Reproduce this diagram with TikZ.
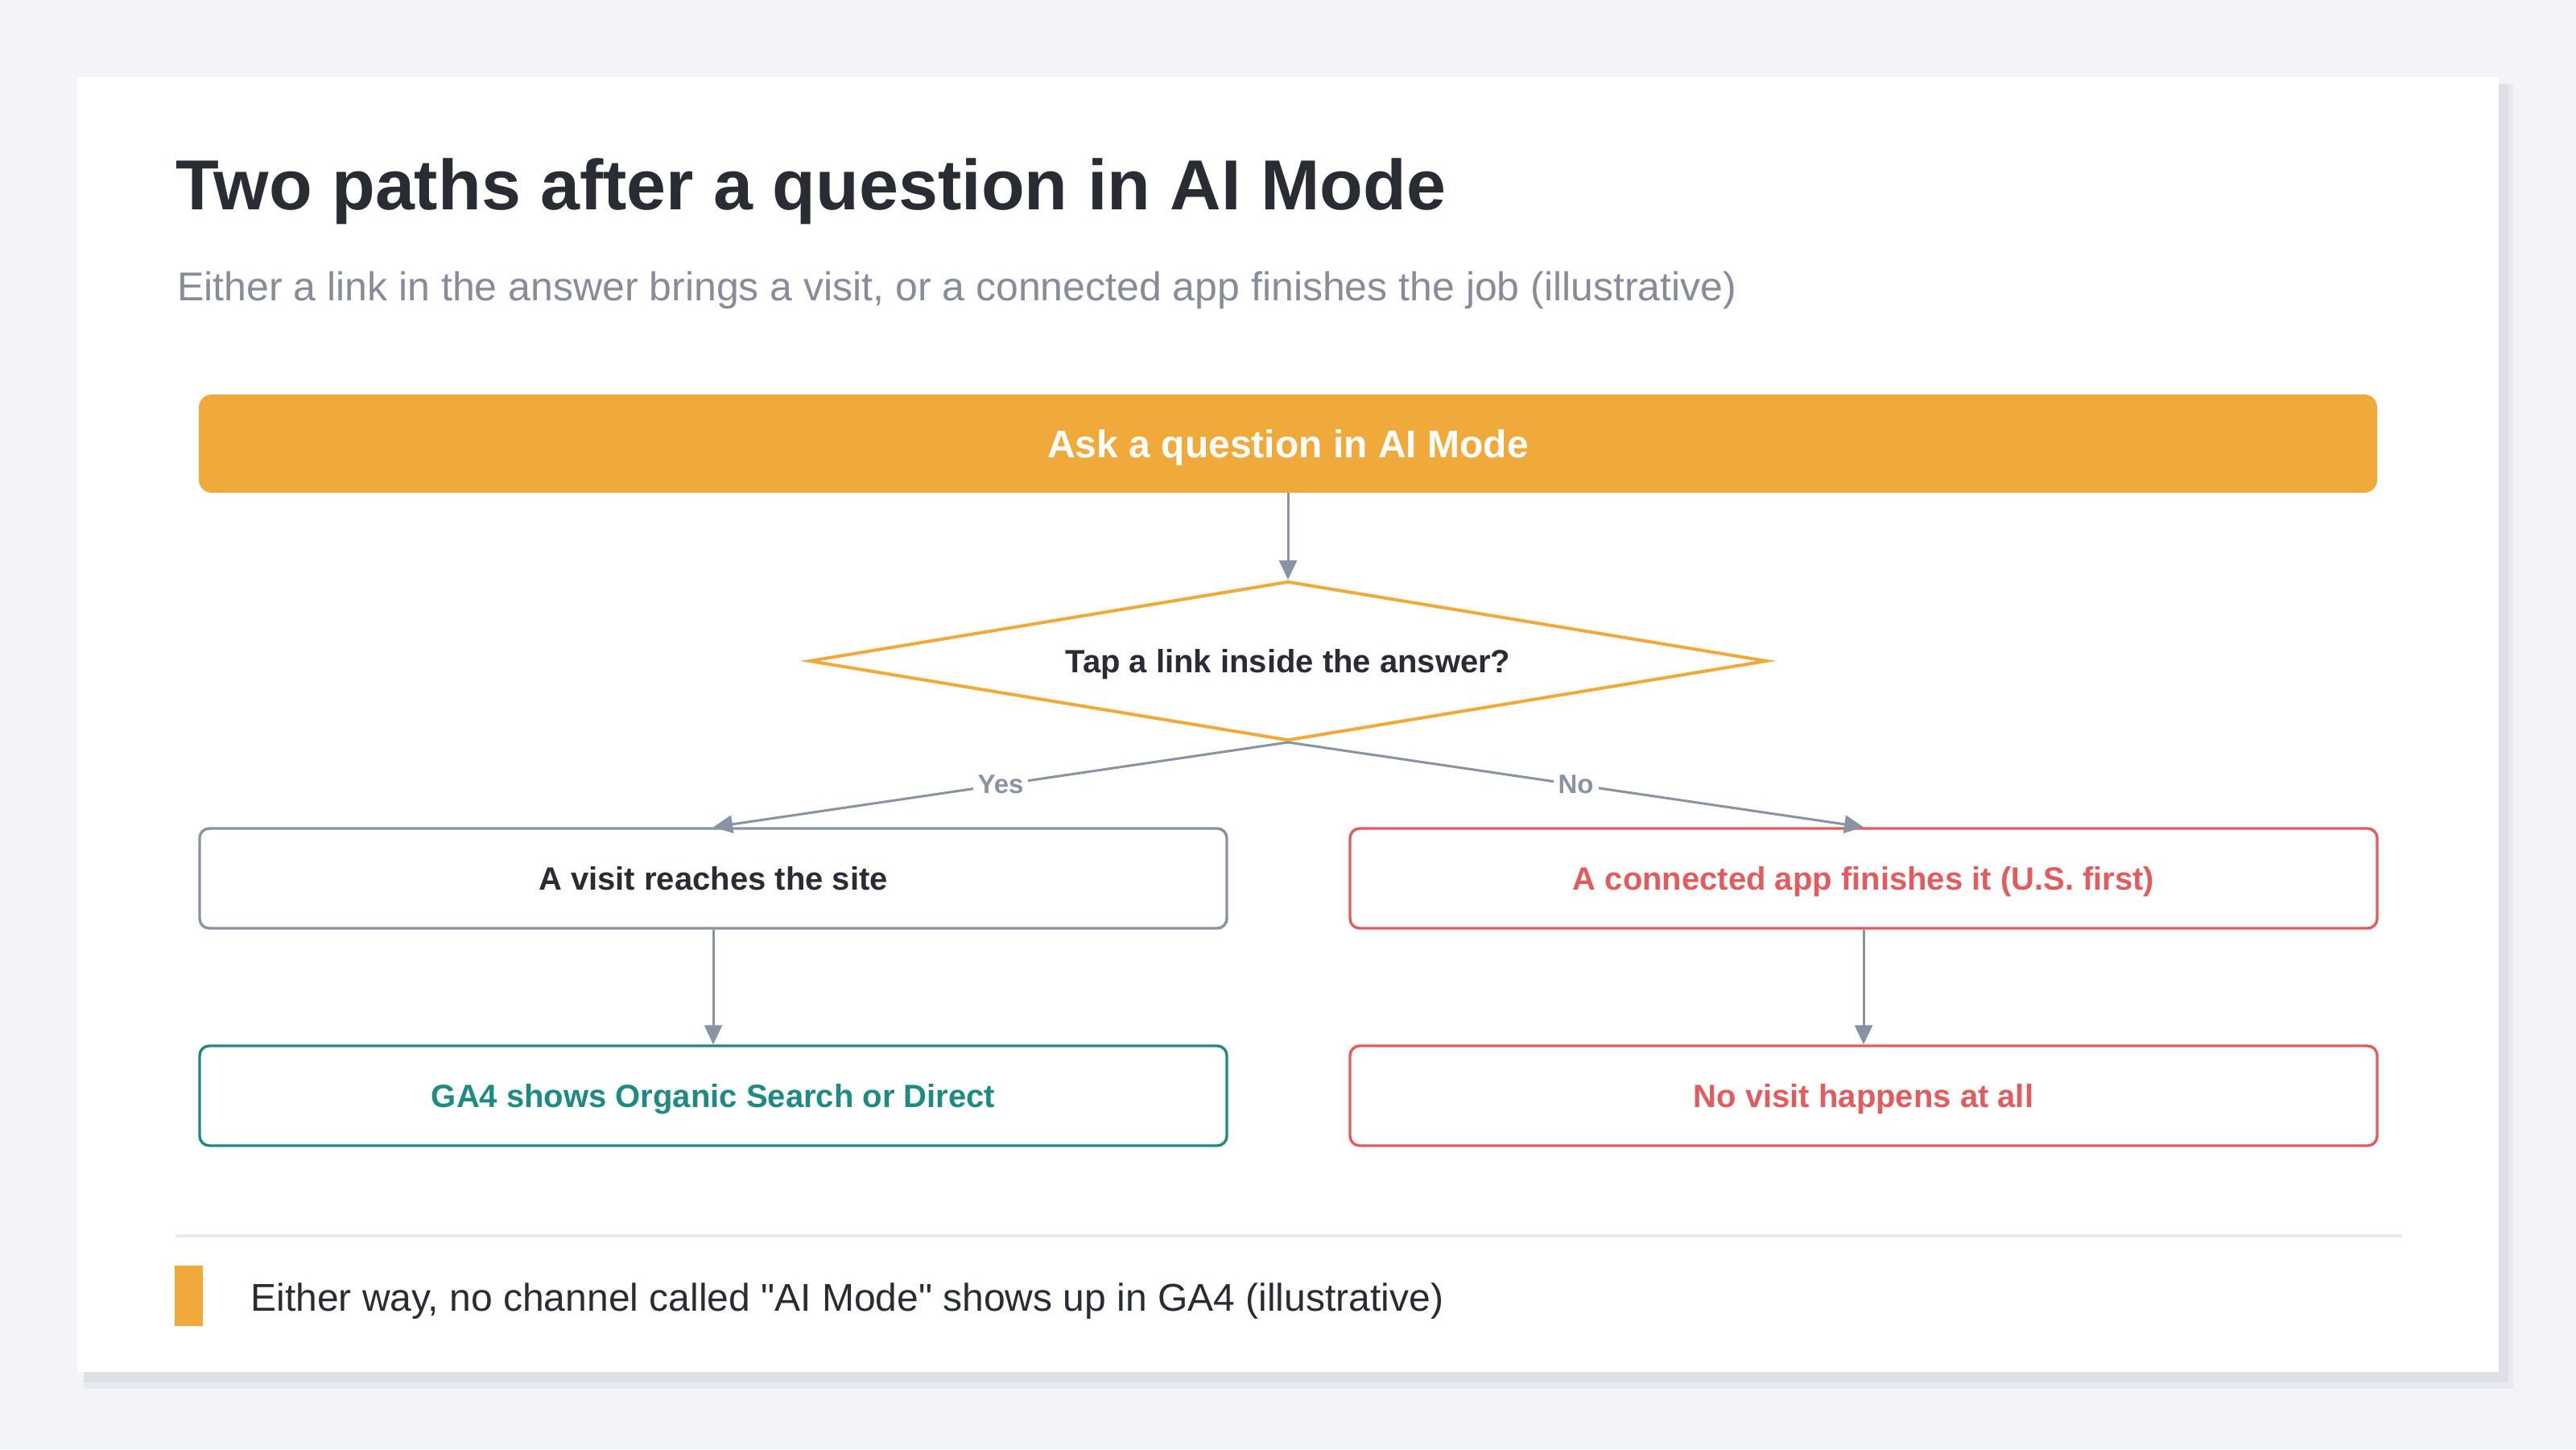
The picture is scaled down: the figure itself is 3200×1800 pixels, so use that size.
\documentclass[tikz,border=0pt]{standalone}
\usepackage{fontspec}
\setmainfont{Liberation Sans}[Ligatures=TeXOff]
\usetikzlibrary{arrows.meta,shapes.geometric}
\definecolor{pagebg}{HTML}{F3F4F8}
\definecolor{shadowA}{HTML}{E9EAF0}
\definecolor{shadowB}{HTML}{DFE0E7}
\definecolor{inkdark}{HTML}{2A2C33}
\definecolor{inkgray}{HTML}{878C98}
\definecolor{linegray}{HTML}{8A93A1}
\definecolor{sepgray}{HTML}{E7E9EE}
\definecolor{amber}{HTML}{F0A93B}
\definecolor{coral}{HTML}{E05C5E}
\definecolor{teal}{HTML}{1F8A82}

\begin{document}
\begin{tikzpicture}[x=0.5pt,y=-0.5pt,
  stepbox/.style={draw,rounded corners=6pt,line width=1.7pt,fill=white,
    minimum width=638pt,minimum height=62pt,inner sep=0pt,text height=14.3pt,text depth=0pt,
    font=\fontsize{20}{24}\selectfont\bfseries},
  flow/.style={draw=linegray,line width=1.5pt,-{Triangle[length=12pt,width=11pt]}},
  answer/.style={fill=white,inner sep=3pt,text=linegray,font=\fontsize{16.5}{20}\selectfont\bfseries}]
  \useasboundingbox (0,0) rectangle (3200,1800);
  \fill[pagebg] (0,0) rectangle (3200,1800);
  % card with a soft shadow
  \fill[shadowA] (104,104) rectangle (3122,1725);
  \fill[shadowB] (104,104) rectangle (3116,1717);
  \fill[white] (96,96) rectangle (3104,1704);

  \node[anchor=base west,inner sep=0pt,text=inkdark,font=\fontsize{44}{52}\selectfont\bfseries]
    (title) at (218,260) {Two paths after a question in AI Mode};
  \node[anchor=base west,inner sep=0pt,text=inkgray,font=\fontsize{25}{30}\selectfont]
    (subtitle) at (220,373) {Either a link in the answer brings a visit, or a connected app finishes the job (illustrative)};

  \node[fill=amber,rounded corners=8pt,minimum width=1353pt,minimum height=61pt,inner sep=0pt,
    text height=17.2pt,text depth=0pt,text=white,font=\fontsize{24}{28}\selectfont\bfseries]
    (ask) at (1600,551) {Ask a question in AI Mode};
  \node[diamond,draw=amber,line width=2pt,aspect=6,inner sep=0pt,fill=white,
    minimum width=595pt,minimum height=99pt,text height=14.3pt,text depth=0pt,
    text=inkdark,font=\fontsize{20}{24}\selectfont\bfseries]
    (tap) at (1600,821) {Tap a link inside the answer?};

  \node[stepbox,draw=linegray,text=inkdark] (visit) at (886,1091) {A visit reaches the site};
  \node[stepbox,draw=coral,text=coral] (app) at (2315,1091) {A connected app finishes it (U.S. first)};
  \node[stepbox,draw=teal,text=teal] (ga4) at (886,1361) {GA4 shows Organic Search or Direct};
  \node[stepbox,draw=coral,text=coral] (novisit) at (2315,1361) {No visit happens at all};

  \draw[flow] (ask) -- (tap.north);
  \draw[flow] (tap.south) -- node[answer] {Yes} (visit.north);
  \draw[flow] (tap.south) -- node[answer] {No} (app.north);
  \draw[flow] (visit) -- (ga4);
  \draw[flow] (app) -- (novisit);

  % footer note
  \draw[sepgray,line width=1.7pt] (218,1535) -- (2984,1535);
  \fill[amber] (217,1572) rectangle (252,1647);
  \node[anchor=base west,inner sep=0pt,text=inkdark,font=\fontsize{24}{29}\selectfont]
    (note) at (311,1628) {Either way, no channel called "AI Mode" shows up in GA4 (illustrative)};
\end{tikzpicture}
\end{document}
